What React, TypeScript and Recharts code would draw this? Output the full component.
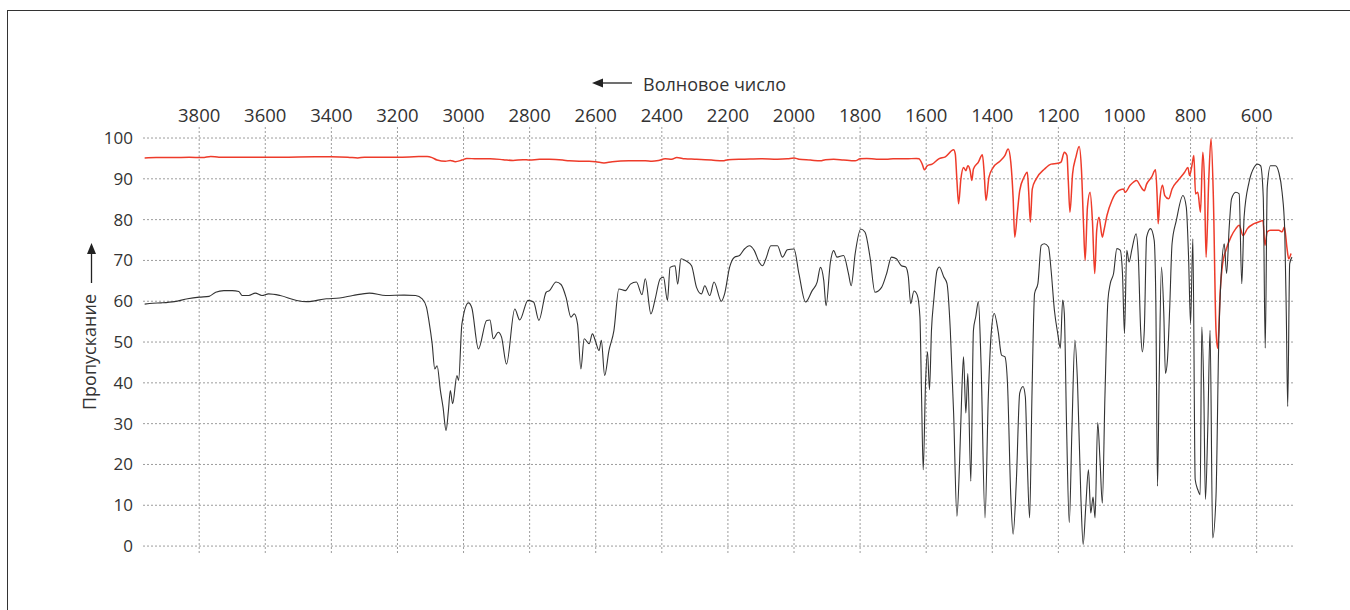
import React from 'react';
import { LineChart, Line, XAxis, YAxis, CartesianGrid } from 'recharts';

const FONT = "'Open Sans', 'Noto Sans', sans-serif";

// axis ticks (wavenumber runs right-to-left)
const xTicks = [3800, 3600, 3400, 3200, 3000, 2800, 2600, 2400, 2200, 2000, 1800, 1600, 1400, 1200, 1000, 800, 600];
const yTicks = [0, 10, 20, 30, 40, 50, 60, 70, 80, 90, 100];

// lower (black) spectrum
const blackWavenumbers = [
  3965, 3940, 3915, 3875, 3835, 3800, 3770, 3750, 3725, 3700, 3680, 3670, 3650, 3630, 3610, 3590, 3555, 3505, 3475, 3415,
  3375, 3335, 3285, 3235, 3180, 3145, 3125, 3112, 3105, 3095, 3087, 3080, 3070, 3062, 3053, 3046, 3040, 3033, 3020, 3015,
  3005, 2985, 2975, 2955, 2930, 2920, 2910, 2895, 2885, 2870, 2845, 2830, 2805, 2788, 2772, 2750, 2740, 2720, 2705, 2690,
  2675, 2665, 2655, 2645, 2635, 2620, 2610, 2600, 2590, 2583, 2573, 2560, 2545, 2530, 2510, 2495, 2477, 2460, 2450, 2433,
  2420, 2405, 2395, 2383, 2375, 2360, 2352, 2342, 2325, 2310, 2295, 2280, 2270, 2255, 2242, 2220, 2210, 2195, 2180, 2165,
  2150, 2135, 2120, 2105, 2095, 2085, 2070, 2050, 2035, 2020, 2000, 1985, 1965, 1945, 1930, 1920, 1910, 1903, 1890, 1880,
  1870, 1850, 1835, 1827, 1815, 1798, 1785, 1770, 1755, 1735, 1720, 1705, 1690, 1675, 1662, 1654, 1647, 1637, 1627, 1619,
  1614, 1609, 1602, 1596, 1590, 1584, 1577, 1567, 1560, 1547, 1537, 1527, 1517, 1507, 1499, 1492, 1487, 1480, 1474, 1465,
  1457, 1450, 1442, 1434, 1422, 1412, 1404, 1394, 1382, 1372, 1362, 1354, 1344, 1337, 1327, 1317, 1307, 1300, 1294, 1287,
  1280, 1272, 1262, 1252, 1242, 1230, 1222, 1212, 1202, 1194, 1187, 1182, 1175, 1167, 1159, 1150, 1142, 1132, 1125, 1117,
  1109, 1102, 1095, 1089, 1081, 1074, 1067, 1059, 1050, 1043, 1033, 1023, 1013, 1006, 1000, 993, 986, 978, 965, 958,
  951, 946, 940, 933, 921, 910, 905, 900, 895, 888, 881, 876, 870, 863, 856, 843, 823, 813, 806, 800,
  793, 786, 778, 771, 766, 760, 755, 748, 741, 733, 723, 715, 706, 698, 691, 683, 676, 663, 653, 645,
  638, 623, 608, 598, 588, 580, 574, 568, 558, 543, 533, 523, 515, 510, 506, 500, 493,
];
const blackTransmittance = [
  59.3, 59.5, 59.6, 59.9, 60.6, 61.0, 61.2, 62.2, 62.6, 62.6, 62.4, 61.4, 61.4, 62.0, 61.4, 61.8, 61.4, 60.2, 59.9, 60.6,
  60.8, 61.4, 62.0, 61.4, 61.5, 61.4, 60.6, 58.5, 55.3, 49.6, 43.4, 44.2, 38.1, 34.0, 28.3, 33.0, 38.1, 34.9, 41.8, 40.6,
  54.4, 59.6, 58.4, 48.3, 55.3, 55.4, 50.8, 52.4, 51.2, 44.6, 58.1, 55.4, 60.2, 59.8, 55.3, 62.2, 62.6, 64.7, 64.1, 61.0,
  56.1, 56.9, 54.4, 43.4, 50.8, 49.6, 52.0, 50.0, 47.9, 50.4, 41.8, 47.9, 52.8, 63.0, 62.6, 64.2, 64.7, 61.6, 65.5, 56.9,
  60.6, 65.5, 65.9, 60.2, 68.3, 68.7, 64.2, 70.4, 69.8, 68.7, 63.4, 61.8, 63.8, 61.4, 64.7, 60.0, 61.8, 68.3, 70.8, 71.2,
  72.8, 73.6, 72.4, 69.5, 68.7, 70.4, 73.6, 73.6, 70.8, 72.6, 72.8, 66.7, 59.8, 62.6, 64.7, 68.3, 65.1, 58.9, 69.5, 72.4,
  70.8, 71.2, 66.7, 63.8, 71.6, 77.7, 76.9, 70.8, 62.2, 63.4, 66.7, 70.8, 70.4, 68.7, 68.4, 66.0, 59.4, 62.5, 61.5, 56.2,
  36.6, 18.7, 39.9, 47.6, 38.3, 52.9, 60.3, 67.6, 68.4, 66.0, 64.3, 52.9, 32.6, 7.3, 20.4, 38.3, 46.4, 32.6, 42.3, 15.9,
  52.9, 56.2, 59.9, 44.8, 6.9, 36.6, 51.3, 57.0, 52.5, 46.8, 46.4, 39.9, 12.2, 2.9, 16.3, 37.5, 39.1, 36.6, 20.4, 6.9,
  36.6, 61.9, 64.3, 73.7, 74.1, 73.3, 67.6, 57.8, 52.1, 48.5, 60.3, 57.0, 28.5, 5.7, 28.5, 50.5, 39.9, 12.2, 0.4, 9.8,
  18.7, 8.1, 12.0, 6.9, 30.3, 21.0, 10.5, 37.0, 60.3, 64.3, 66.8, 72.9, 72.5, 66.8, 52.1, 72.5, 69.6, 72.5, 76.5, 70.8,
  52.9, 47.6, 52.9, 75.7, 77.8, 74.9, 59.4, 14.7, 40.7, 68.4, 57.0, 42.3, 45.6, 58.6, 74.1, 79.8, 85.9, 83.1, 70.8, 54.6,
  75.3, 16.3, 13.8, 12.6, 53.7, 38.3, 11.4, 28.5, 52.9, 2.0, 12.2, 48.9, 68.4, 74.1, 66.8, 78.2, 85.1, 86.7, 86.3, 64.3,
  80.6, 89.2, 92.8, 93.6, 93.2, 85.5, 48.5, 87.9, 93.2, 93.2, 91.6, 86.7, 77.4, 55.4, 34.2, 69.2, 70.8,
];

// upper (red) spectrum
const redWavenumbers = [
  3965, 3930, 3880, 3830, 3790, 3765, 3740, 3650, 3550, 3450, 3400, 3350, 3320, 3300, 3200, 3150, 3110, 3095, 3080, 3055,
  3040, 3025, 3005, 2990, 2960, 2920, 2880, 2850, 2820, 2800, 2770, 2740, 2700, 2680, 2650, 2620, 2600, 2575, 2550, 2500,
  2450, 2430, 2410, 2390, 2370, 2355, 2330, 2300, 2250, 2215, 2200, 2150, 2100, 2050, 2020, 2000, 1985, 1950, 1920, 1905,
  1880, 1850, 1815, 1800, 1780, 1750, 1720, 1700, 1660, 1630, 1622, 1612, 1605, 1597, 1582, 1562, 1542, 1517, 1512, 1507,
  1502, 1495, 1487, 1480, 1474, 1467, 1462, 1457, 1442, 1430, 1425, 1419, 1410, 1397, 1377, 1362, 1352, 1344, 1337, 1332,
  1324, 1317, 1304, 1294, 1290, 1285, 1279, 1267, 1242, 1222, 1202, 1192, 1182, 1174, 1170, 1165, 1157, 1147, 1137, 1130,
  1124, 1119, 1112, 1104, 1097, 1090, 1084, 1077, 1067, 1062, 1053, 1038, 1018, 1003, 998, 983, 963, 953, 940, 933,
  918, 906, 901, 898, 893, 885, 878, 866, 856, 838, 818, 808, 803, 796, 790, 785, 778, 770, 763, 758,
  753, 745, 738, 731, 723, 718, 710, 703, 693, 678, 663, 653, 641, 628, 608, 588, 581, 575, 568, 558,
  548, 533, 523, 516, 508, 503, 496,
];
const redTransmittance = [
  95.1, 95.2, 95.2, 95.3, 95.2, 95.5, 95.3, 95.3, 95.3, 95.4, 95.4, 95.3, 95.1, 95.3, 95.3, 95.4, 95.5, 95.2, 94.6, 94.3,
  94.5, 94.2, 94.6, 95.0, 94.9, 94.9, 94.7, 94.5, 94.7, 94.6, 94.8, 94.8, 94.6, 94.4, 94.3, 94.3, 94.2, 93.9, 94.2, 94.4,
  94.4, 94.3, 94.5, 94.9, 94.8, 95.2, 94.9, 94.8, 94.6, 94.4, 94.7, 94.8, 94.9, 94.8, 94.9, 95.1, 94.8, 94.6, 94.4, 94.7,
  94.8, 94.6, 94.4, 94.9, 95.0, 94.8, 94.8, 94.9, 94.9, 95.0, 94.9, 93.6, 92.2, 93.2, 93.6, 94.9, 95.4, 97.1, 96.1, 89.6,
  83.9, 90.0, 92.8, 92.0, 93.2, 92.0, 89.6, 92.4, 94.1, 95.9, 92.0, 84.7, 90.4, 92.8, 94.3, 95.7, 97.3, 94.1, 85.5, 75.7,
  81.8, 87.1, 90.4, 91.6, 87.1, 79.4, 87.5, 90.0, 92.4, 93.6, 93.8, 94.1, 96.5, 95.7, 89.6, 81.8, 91.2, 95.3, 97.9, 92.0,
  79.0, 70.0, 83.1, 86.7, 79.8, 66.8, 77.4, 80.6, 75.7, 77.4, 81.0, 84.7, 87.1, 87.5, 86.7, 88.4, 89.6, 88.4, 87.1, 88.7,
  90.4, 92.2, 85.5, 79.0, 84.7, 88.4, 85.9, 85.1, 87.5, 89.6, 91.6, 92.8, 90.8, 93.2, 95.7, 86.3, 86.7, 81.8, 96.5, 89.6,
  70.8, 89.6, 99.8, 85.5, 52.9, 48.5, 62.7, 69.2, 72.5, 75.7, 77.8, 78.6, 76.1, 77.8, 79.0, 79.6, 79.8, 73.7, 77.0, 77.4,
  77.4, 77.4, 77.0, 78.2, 72.9, 70.4, 71.7,
];

const toRows = (wn: number[], t: number[]) => wn.map((w, i) => ({ wn: w, t: t[i] }));
const blackRows = toRows(blackWavenumbers, blackTransmittance);
const redRows = toRows(redWavenumbers, redTransmittance);

// "<—— Волновое число" above the top axis
const XAxisTitle = (props: any) => {
  const vb = props.viewBox || { x: 143, y: 97, width: 1150, height: 30 };
  const x0 = vb.x + 449;
  const y0 = vb.y - 14;
  return (
    <g>
      <line x1={x0 + 8} y1={y0} x2={x0 + 40} y2={y0} stroke="#222" strokeWidth={1.3} />
      <path d={`M${x0},${y0} L${x0 + 11},${y0 - 4.5} L${x0 + 11},${y0 + 4.5} Z`} fill="#222" />
      <text x={x0 + 51} y={y0 + 8} fontFamily={FONT} fontSize={18} fill="#333">
        Волновое число
      </text>
    </g>
  );
};

// rotated "Пропускание ——>" on the left
const YAxisTitle = (props: any) => {
  const vb = props.viewBox || { x: 83, y: 127, width: 60, height: 426 };
  const cx = vb.x + 5;
  const by = vb.y + 283;
  return (
    <g transform={`translate(${cx}, ${by}) rotate(-90)`}>
      <text x={0} y={8} fontFamily={FONT} fontSize={18} fill="#333">
        Пропускание
      </text>
      <line x1={127} y1={3.5} x2={157} y2={3.5} stroke="#222" strokeWidth={1.3} />
      <path d={`M167,3.5 L156,-1 L156,8 Z`} fill="#222" />
    </g>
  );
};

export default function App() {
  return (
    <div style={{ position: 'absolute', left: 0, top: 0, width: 1350, height: 610, overflow: 'hidden', background: '#fff' }}>
      <div
        style={{
          position: 'absolute',
          left: 7,
          top: 10,
          width: 1343,
          height: 600,
          borderTop: '1px solid #333',
          borderLeft: '1px solid #333',
        }}
      />
      <div style={{ position: 'absolute', left: 0, top: 0 }}>
        <LineChart width={1350} height={610} margin={{ top: 97, right: 57, bottom: 57, left: 83 }}>
          <CartesianGrid strokeDasharray="2 2" stroke="#9c9c9c" syncWithTicks />
          <XAxis
            type="number"
            dataKey="wn"
            domain={[490, 3970]}
            reversed
            allowDataOverflow
            orientation="top"
            ticks={xTicks}
            interval={0}
            height={30}
            axisLine={false}
            tickLine={false}
            tickSize={0}
            tickMargin={5}
            tick={{ fill: '#333', fontSize: 18.5, fontFamily: FONT }}
            label={XAxisTitle}
          />
          <YAxis
            type="number"
            domain={[-1.7, 102.7]}
            allowDataOverflow
            ticks={yTicks}
            interval={0}
            width={60}
            axisLine={false}
            tickLine={false}
            tickSize={0}
            tickMargin={10}
            tick={{ fill: '#333', fontSize: 17, fontFamily: FONT }}
            label={YAxisTitle}
          />
          <Line
            data={redRows}
            dataKey="t"
            type="monotoneX"
            stroke="#ee3b2a"
            strokeWidth={1.5}
            dot={false}
            activeDot={false}
            isAnimationActive={false}
          />
          <Line
            data={blackRows}
            dataKey="t"
            type="monotoneX"
            stroke="#333"
            strokeWidth={1.1}
            dot={false}
            activeDot={false}
            isAnimationActive={false}
          />
        </LineChart>
      </div>
    </div>
  );
}
